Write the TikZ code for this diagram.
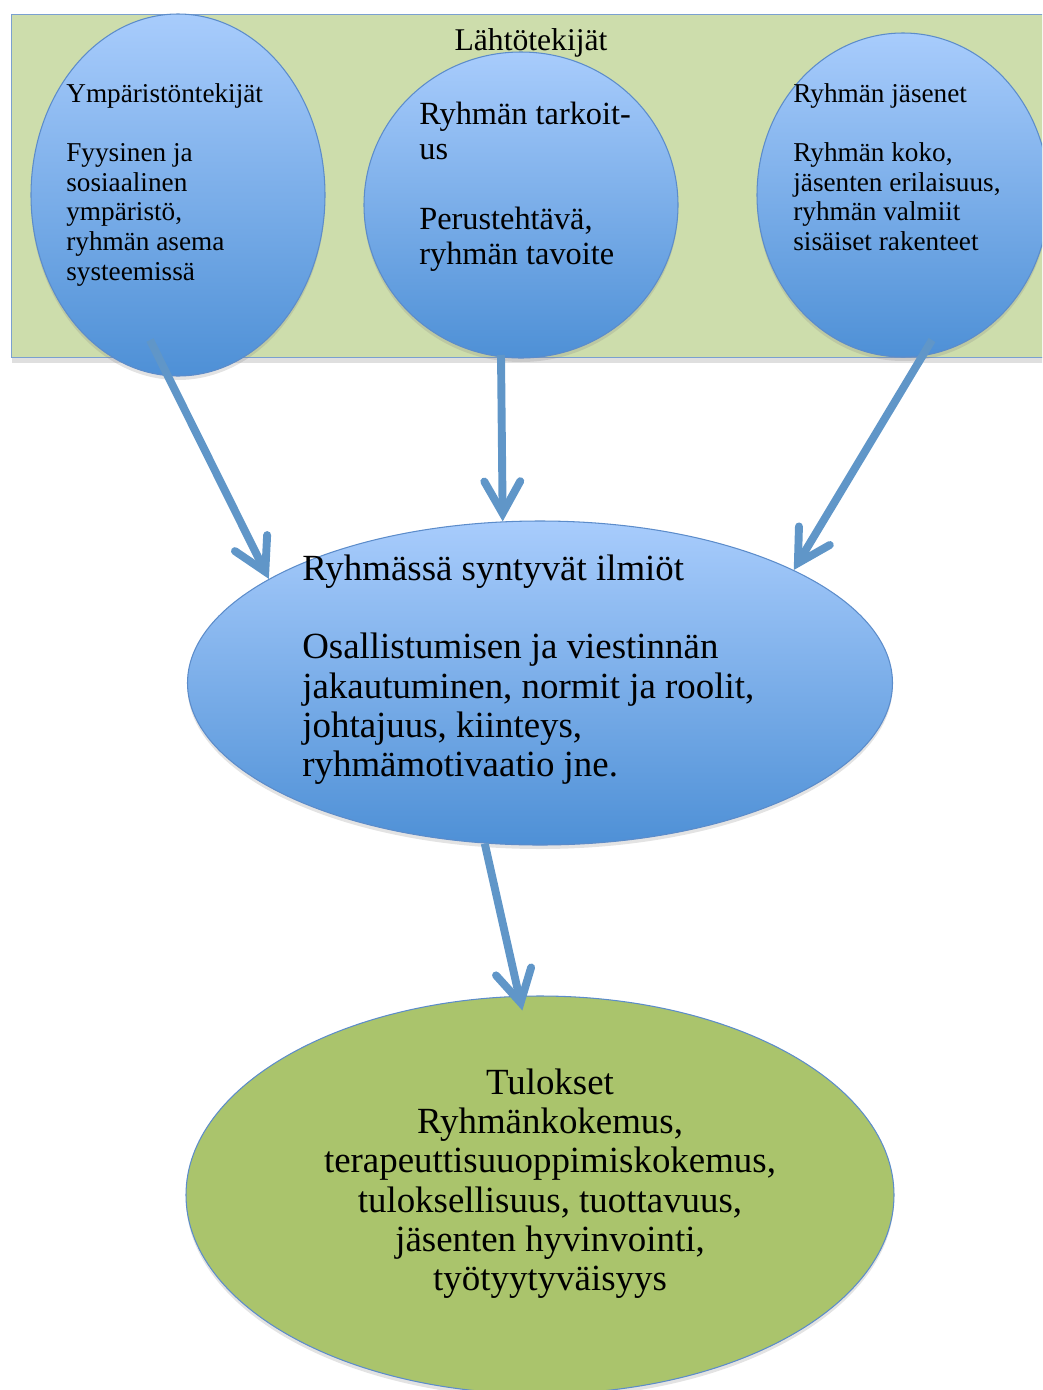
\documentclass[tikz,border=0pt]{standalone}
\usepackage{fontspec}
\setmainfont{Liberation Serif}
\usetikzlibrary{arrows.meta,shapes.geometric,shadows,calc}

\definecolor{srcfill}{RGB}{205,221,172}
\definecolor{srcline}{RGB}{122,160,208}
\definecolor{bubbletop}{RGB}{168,204,252}
\definecolor{bubblebot}{RGB}{78,144,214}
\definecolor{bubbleline}{RGB}{92,140,202}
\definecolor{flowblue}{RGB}{96,150,200}
\definecolor{resgreen}{RGB}{170,196,108}

\begin{document}
\begin{tikzpicture}[x=0.02cm, y=-0.02cm,
	bubble/.style={ellipse, draw=bubbleline, line width=0.6pt, inner sep=0pt,
		top color=bubbletop, bottom color=bubblebot,
		drop shadow={shadow xshift=0pt, shadow yshift=-0.8mm, opacity=0.22}},
	flow/.style={draw=flowblue, line width=4.5pt,
		-{Straight Barb[length=6.4mm, width=7.2mm, line cap=round]}},
	smalltxt/.style={font=\fontsize{15.5}{16.8}\selectfont, align=left, inner sep=0pt, anchor=base west},
	midtxt/.style={font=\fontsize{18.4}{19.8}\selectfont, align=left, inner sep=0pt, anchor=base west},
	bigtxt/.style={font=\fontsize{21}{22.3}\selectfont, inner sep=0pt}]
	\useasboundingbox (0,0) rectangle (1042,1390);
	\clip (0,0) rectangle (1042,1390);

	% lahtotekijat
	\node[draw=srcline, fill=srcfill, line width=0.8pt, rectangle, inner sep=0pt,
		minimum width=1050*0.02cm, minimum height=343*0.02cm, anchor=north west,
		drop shadow={shadow xshift=0pt, shadow yshift=-1mm, opacity=0.25}]
		(src) at (11,14) {};
	\node[font=\fontsize{18}{20}\selectfont, inner sep=0pt, anchor=base] (srctitle) at (531,50) {Lähtötekijät};

	\foreach \nm/\cx/\cy/\w/\h in {env/178/195/294/362, task/521/205/314/306, memb/903/195/292/324}
		\node[bubble, minimum width=\w*0.02cm, minimum height=\h*0.02cm] (\nm) at (\cx,\cy) {};

	% ankkuri = viimeisen rivin perusviiva
	\node[smalltxt] (envtxt) at (66,280) {Ympäristöntekijät\\[16.8pt]
		Fyysinen ja\\ sosiaalinen\\ ympäristö,\\ ryhmän asema\\ systeemissä};
	\node[midtxt] (tasktxt) at (419,264) {Ryhmän tarkoit-\\ us\\[19.8pt]
		Perustehtävä,\\ ryhmän tavoite};
	\node[smalltxt] (membtxt) at (793,250.5) {Ryhmän jäsenet\\[16.8pt]
		Ryhmän koko,\\ jäsenten erilaisuus,\\ ryhmän valmiit\\ sisäiset rakenteet};

	% ilmiot ja tulokset
	\node[bubble, minimum width=705*0.02cm, minimum height=324*0.02cm] (phen) at (540,683) {};
	\node[bigtxt, align=left, anchor=base west] (phentxt) at (302,776.5) {Ryhmässä syntyvät ilmiöt\\[22.3pt]
		Osallistumisen ja viestinnän\\ jakautuminen, normit ja roolit,\\ johtajuus, kiinteys,\\ ryhmämotivaatio jne.};

	\node[ellipse, draw=bubbleline, line width=0.6pt, fill=resgreen, inner sep=0pt,
		minimum width=708*0.02cm, minimum height=398*0.02cm,
		drop shadow={shadow xshift=0pt, shadow yshift=-0.8mm, opacity=0.22}] (res) at (540,1195) {};
	\node[bigtxt, align=center, anchor=base] (restxt) at (550,1290.5) {Tulokset\\ Ryhmänkokemus,\\
		terapeuttisuuoppimiskokemus,\\ tuloksellisuus, tuottavuus,\\ jäsenten hyvinvointi,\\ työtyytyväisyys};

	% nuolet
	\coordinate (envfoot) at (150,340);
	\coordinate (taskfoot) at (501,355);
	\coordinate (membfoot) at (932,340);
	\draw[flow] (envfoot) -- (phen.159);
	\draw[flow] (taskfoot) -- (phen.103.5);
	\draw[flow] (membfoot) -- (phen.24);
	\draw[flow, shorten >=-0.3cm] (phen.-109) -- (res.96);
\end{tikzpicture}
\end{document}
